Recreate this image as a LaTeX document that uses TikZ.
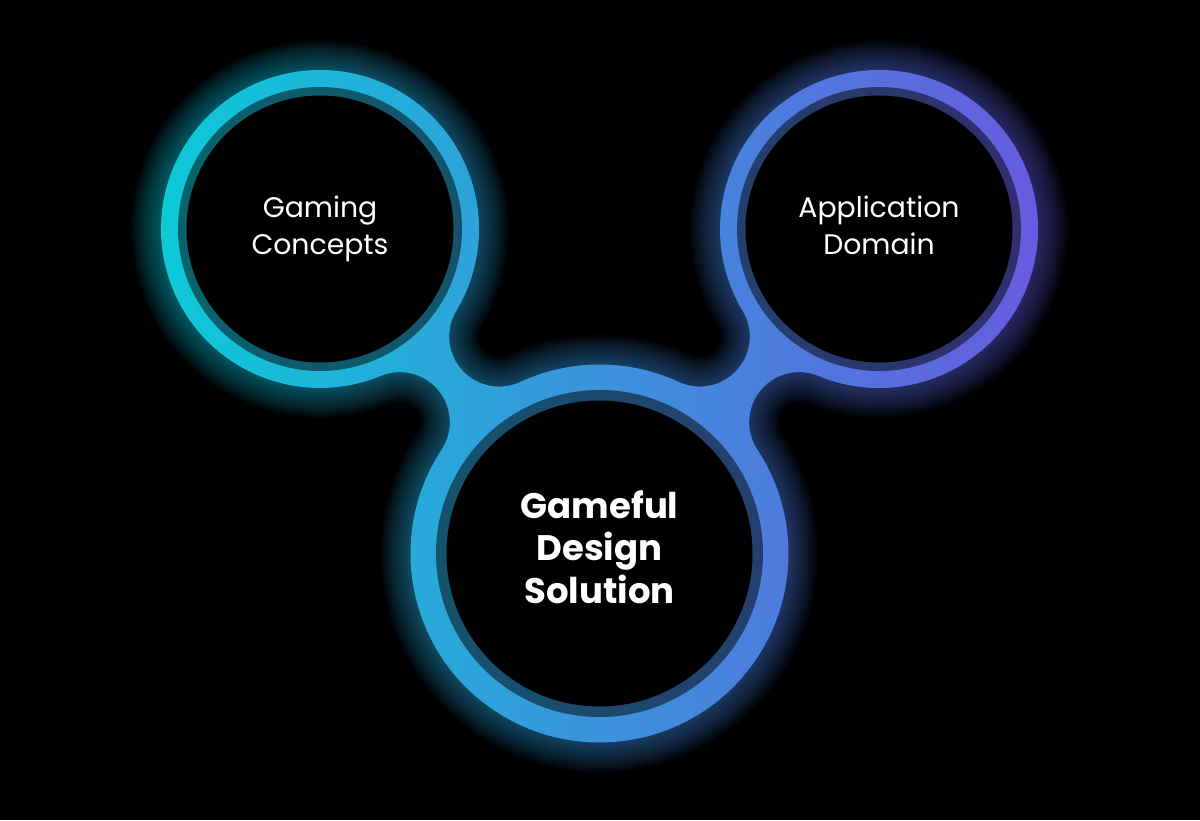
\documentclass[tikz,border=0pt]{standalone}
\usepackage{fontspec}
\setmainfont{Poppins}
\usepackage{tikz}
\usetikzlibrary{calc}

\definecolor{ringcyan}{HTML}{0ACDD8}
\definecolor{ringviolet}{HTML}{6A58DF}

% outline of the three joined rings, pushed out by #1
\newcommand\blobline[1]{%
    ($(c1)+(-30.98:{159+#1})$)
    arc[start angle=-30.98, end angle=292.46, radius={159+#1}]
    arc[start angle=112.46, end angle=-33.34, radius={50-#1}]
    arc[start angle=146.66, end angle=393.34, radius={189+#1}]
    arc[start angle=213.34, end angle=67.54, radius={50-#1}]
    arc[start angle=247.54, end angle=570.98, radius={159+#1}]
    arc[start angle=30.98, end angle=-114.82, radius={50-#1}]
    arc[start angle=65.18, end angle=114.82, radius={189+#1}]
    arc[start angle=294.82, end angle=149.02, radius={50-#1}]
    -- cycle}

\begin{document}
\begin{tikzpicture}[
    x=1pt, y=1pt,
    band/.style={left color=ringcyan, right color=ringviolet},
    glow/.style={band, fill opacity=0.04},
    inner ring/.style={fill=black, fill opacity=0.5},
    topic/.style={text=white, align=center, font=\fontsize{28.3}{36.5}\selectfont},
    core/.style={text=white, align=center, font=\fontsize{35.5}{42.5}\selectfont\bfseries}
]
    \fill[black] (0,0) rectangle (1200,820);
    \useasboundingbox (0,0) rectangle (1200,820);

    \coordinate (c1) at (320,591);
    \coordinate (c2) at (599.5,266.5);
    \coordinate (c3) at (879,591);

    \foreach \k in {2,4,...,30}
        \shade[glow] \blobline{\k};
    \shade[band] \blobline{0};

    \fill[inner ring] (c1) circle[radius=142];
    \fill[inner ring] (c2) circle[radius=163.5];
    \fill[inner ring] (c3) circle[radius=142];
    \fill[black] (c1) circle[radius=133.5];
    \fill[black] (c2) circle[radius=153];
    \fill[black] (c3) circle[radius=133.5];

    \node[topic] (gaming) at (c1) {Gaming\\Concepts};
    \node[topic] (domain) at ($(c3)+(0,3.5)$) {Application\\Domain};
    \node[core] (gameful) at ($(c2)+(0,6.5)$) {Gameful\\Design\\Solution};
\end{tikzpicture}
\end{document}
